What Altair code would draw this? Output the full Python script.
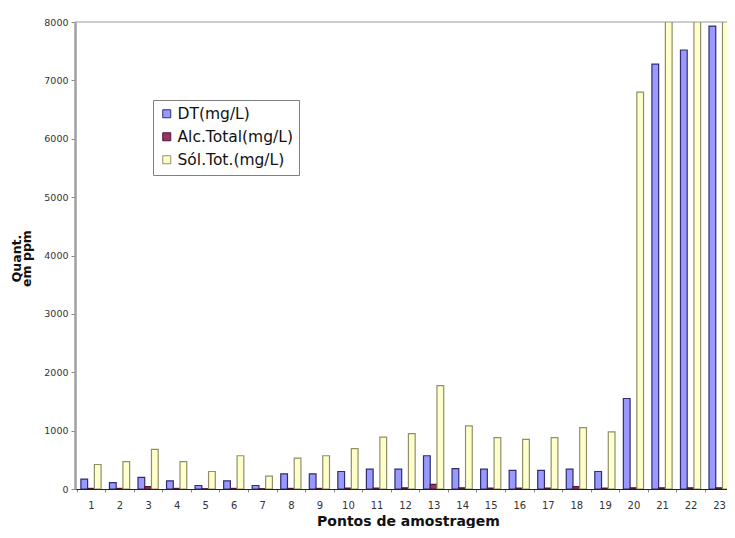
import altair as alt
import pandas as pd

pontos = [str(i) for i in range(1, 24)]
series = ["DT(mg/L)", "Alc.Total(mg/L)", "Sól.Tot.(mg/L)"]
dt = [170, 110, 200, 140, 60, 140, 60, 260, 260, 300, 340, 340, 570, 350, 340, 320, 320, 340, 300, 1550, 7280, 7520, 7930]
alc = [10, 10, 40, 10, 5, 10, 5, 10, 10, 15, 15, 20, 80, 20, 15, 15, 15, 40, 15, 20, 20, 20, 20]
sol = [420, 470, 680, 470, 300, 570, 220, 530, 570, 690, 890, 950, 1770, 1080, 880, 850, 880, 1050, 980, 6800, 8500, 8700, 8900]
y_ticks = [0, 1000, 2000, 3000, 4000, 5000, 6000, 7000, 8000]

fills = ["#9999FF", "#993366", "#FFFFCC"]
strokes = ["#2e2e70", "#4a1a30", "#8f8f6a"]

rows = []
for i, p in enumerate(pontos):
    rows.append({"Ponto": p, "Serie": series[0], "Valor": dt[i]})
    rows.append({"Ponto": p, "Serie": series[1], "Valor": alc[i]})
    rows.append({"Ponto": p, "Serie": series[2], "Valor": sol[i]})
df = pd.DataFrame(rows)

color_scale = alt.Scale(domain=series, range=fills)
stroke_scale = alt.Scale(domain=series, range=strokes)

bars = alt.Chart(df).mark_bar(clip=True, strokeWidth=1.2).encode(
    x=alt.X(
        "Ponto:N",
        sort=pontos,
        scale=alt.Scale(range=[0, 660.1], paddingInner=0, paddingOuter=0.06),
        axis=alt.Axis(
            title="Pontos de amostragem",
            labelAngle=0,
            labelFont="DejaVu Sans",
            labelFontSize=10,
            labelColor="#333333",
            labelPadding=8,
            tickBand="extent",
            tickSize=3,
            tickColor="#888888",
            domainColor="#222222",
            domainWidth=1,
            titleFont="DejaVu Sans",
            titleFontSize=14,
            titleFontWeight="bold",
            titleColor="#111111",
            titleX=333,
            titleY=39,
            titleAlign="center",
            titleBaseline="bottom",
        ),
    ),
    xOffset=alt.XOffset("Serie:N", sort=series, scale=alt.Scale(paddingInner=0, paddingOuter=0.62)),
    y=alt.Y(
        "Valor:Q",
        scale=alt.Scale(domain=[0, 8000], nice=False),
        axis=alt.Axis(
            title=["Quant.", "em ppm"],
            values=y_ticks,
            format="d",
            grid=False,
            labelFont="DejaVu Sans",
            labelFontSize=9.5,
            labelColor="#333333",
            labelPadding=3,
            tickSize=4,
            tickColor="#888888",
            domainColor="#a0a0a0",
            domainWidth=2.5,
            titleFont="DejaVu Sans",
            titleFontSize=12.5,
            titleFontWeight="bold",
            titleColor="#111111",
            titleLineHeight=10.5,
            titleX=-59,
            titleY=236,
            titleAlign="center",
            titleBaseline="middle",
        ),
    ),
    color=alt.Color(
        "Serie:N",
        scale=color_scale,
        sort=series,
        legend=alt.Legend(
            title=None,
            orient="none",
            legendX=78,
            legendY=78,
            direction="vertical",
            symbolType="square",
            symbolSize=64,
            symbolStrokeWidth=1,
            labelFont="DejaVu Sans",
            labelFontSize=15.5,
            labelColor="#111111",
            labelOffset=3,
            rowPadding=6,
            padding=6,
            strokeColor="#808080",
            fillColor="#ffffff",
        ),
    ),
    stroke=alt.Stroke("Serie:N", scale=stroke_scale, sort=series),
)

top_line = alt.Chart(pd.DataFrame({"v": [y_ticks[-1]]})).mark_rule(color="#9a9a9a", strokeWidth=1).encode(
    y=alt.Y("v:Q", scale=alt.Scale(domain=[0, 8000], nice=False))
)

chart = alt.layer(bars, top_line).properties(
    width=652,
    height=467,
    autosize=alt.AutoSizeParams(type="none"),
    padding={"left": 67, "top": 14, "right": 0, "bottom": 39},
    background="#ffffff",
).configure_view(stroke=None)

chart.save("out.html", embed_options={"renderer": "svg", "actions": False})
